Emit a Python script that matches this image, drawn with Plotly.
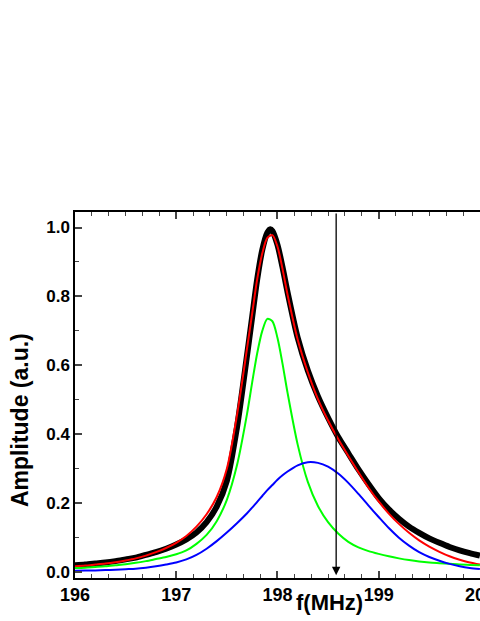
import plotly.graph_objects as go

f_data = [196.0, 196.1, 196.2, 196.3, 196.4, 196.5, 196.6, 196.7, 196.8, 196.9,
          197.0, 197.1, 197.2, 197.3, 197.4, 197.5, 197.6, 197.7, 197.75, 197.8,
          197.85, 197.9, 197.93, 197.95, 198.0, 198.05, 198.1, 198.2, 198.3, 198.4,
          198.5, 198.6, 198.7, 198.8, 198.9, 199.0, 199.1, 199.2, 199.3, 199.4,
          199.5, 199.6, 199.7, 199.8, 199.9, 200.0]
amp_data = [0.020, 0.022, 0.025, 0.028, 0.032, 0.037, 0.042, 0.050, 0.058, 0.068,
            0.080, 0.095, 0.115, 0.145, 0.190, 0.265, 0.420, 0.630, 0.740, 0.850,
            0.935, 0.985, 0.995, 0.990, 0.950, 0.885, 0.812, 0.680, 0.585, 0.510,
            0.448, 0.392, 0.345, 0.298, 0.255, 0.215, 0.182, 0.155, 0.132, 0.114,
            0.098, 0.085, 0.073, 0.063, 0.055, 0.048]

# fit curves share one frequency grid
f_fit = [196.0, 196.1, 196.2, 196.3, 196.4, 196.5, 196.6, 196.7, 196.8, 196.9,
         197.0, 197.1, 197.2, 197.3, 197.4, 197.5, 197.6, 197.7, 197.75, 197.8,
         197.85, 197.9, 197.95, 198.0, 198.05, 198.1, 198.2, 198.3, 198.4, 198.5,
         198.6, 198.7, 198.8, 198.9, 199.0, 199.1, 199.2, 199.3, 199.4, 199.5,
         199.6, 199.7, 199.8, 199.9, 200.0]
fit_total = [0.017, 0.019, 0.022, 0.025, 0.029, 0.034, 0.040, 0.048, 0.058, 0.070,
             0.085, 0.105, 0.132, 0.168, 0.218, 0.300, 0.455, 0.650, 0.750, 0.850,
             0.925, 0.970, 0.978, 0.945, 0.880, 0.805, 0.675, 0.580, 0.502, 0.440,
             0.386, 0.337, 0.290, 0.245, 0.205, 0.170, 0.140, 0.114, 0.092, 0.074,
             0.059, 0.046, 0.036, 0.028, 0.022]
peak1 = [0.012, 0.013, 0.015, 0.017, 0.020, 0.023, 0.027, 0.032, 0.038, 0.044,
         0.052, 0.063, 0.082, 0.108, 0.148, 0.210, 0.310, 0.460, 0.550, 0.635,
         0.700, 0.735, 0.728, 0.680, 0.605, 0.520, 0.370, 0.262, 0.192, 0.145,
         0.112, 0.088, 0.072, 0.061, 0.053, 0.046, 0.040, 0.035, 0.031, 0.028,
         0.026, 0.024, 0.022, 0.021, 0.020]
peak2 = [0.004, 0.0045, 0.005, 0.006, 0.007, 0.0085, 0.010, 0.013, 0.017, 0.022,
         0.028, 0.037, 0.050, 0.068, 0.090, 0.115, 0.142, 0.171, 0.187, 0.204,
         0.221, 0.238, 0.253, 0.268, 0.281, 0.292, 0.310, 0.319, 0.317, 0.306,
         0.286, 0.259, 0.227, 0.193, 0.160, 0.128, 0.100, 0.077, 0.058, 0.044,
         0.033, 0.024, 0.017, 0.012, 0.009]

marker_freq = 198.58

x_range = [196, 200.001]
y_range = [-0.017, 1.045]

fig = go.Figure()
fig.add_trace(go.Scatter(x=f_data, y=amp_data, mode='lines',
                         line=dict(color='black', width=6, shape='spline', smoothing=0.8)))
fig.add_trace(go.Scatter(x=f_fit, y=fit_total, mode='lines',
                         line=dict(color='#ff0000', width=2, shape='spline', smoothing=0.8)))
fig.add_trace(go.Scatter(x=f_fit, y=peak1, mode='lines',
                         line=dict(color='#00ff00', width=2, shape='spline', smoothing=0.8)))
fig.add_trace(go.Scatter(x=f_fit, y=peak2, mode='lines',
                         line=dict(color='#0000ff', width=2, shape='spline', smoothing=0.8)))

# vertical arrow marking the frequency
fig.add_annotation(x=marker_freq, y=y_range[0] + 0.008, ax=marker_freq, ay=y_range[1],
                   xref='x', yref='y', axref='x', ayref='y', text='',
                   showarrow=True, arrowhead=2, arrowsize=1.3, arrowwidth=1.3,
                   arrowcolor='black')

# axis titles
fig.add_annotation(text='<b>f(MHz)</b>', xref='paper', yref='paper', x=(329 - 75) / 405,
                   y=-(602 - 578) / 366, xanchor='center', yanchor='middle', showarrow=False,
                   font=dict(family='Liberation Sans', size=22, color='black'))
fig.add_annotation(text='<b>Amplitude (a.u.)</b>', xref='paper', yref='paper',
                   x=-(75 - 20) / 405, y=(578 - 420) / 366, xanchor='center', yanchor='middle',
                   textangle=-90, showarrow=False,
                   font=dict(family='Liberation Sans', size=23, color='black'))

fig.update_xaxes(range=x_range, dtick=1, tick0=196, ticks='inside', ticklen=7, tickwidth=1.5,
                 minor=dict(dtick=1 / 6, ticks='inside', ticklen=4, tickwidth=1.2),
                 showline=True, linecolor='black', linewidth=1.5, mirror='ticks',
                 showgrid=False, zeroline=False, automargin=False, ticklabeloverflow='allow',
                 tickfont=dict(family='Liberation Sans', size=18, color='black', weight='bold'))
fig.update_yaxes(range=y_range, dtick=0.2, tick0=0, tickformat='.1f', ticks='inside',
                 ticklen=7, tickwidth=1.5,
                 minor=dict(dtick=0.1, ticks='inside', ticklen=4, tickwidth=1.2),
                 showline=True, linecolor='black', linewidth=1.5,
                 showgrid=False, zeroline=False, automargin=False,
                 tickfont=dict(family='Liberation Sans', size=17, color='black', weight='bold'))
fig.update_layout(width=480, height=621, showlegend=False,
                  margin=dict(l=75, r=0, t=212, b=43),
                  plot_bgcolor='white', paper_bgcolor='white')

fig.write_html("out.html", config={'displayModeBar': False},
               post_script="document.body.style.margin='0';document.body.style.overflow='hidden';")
